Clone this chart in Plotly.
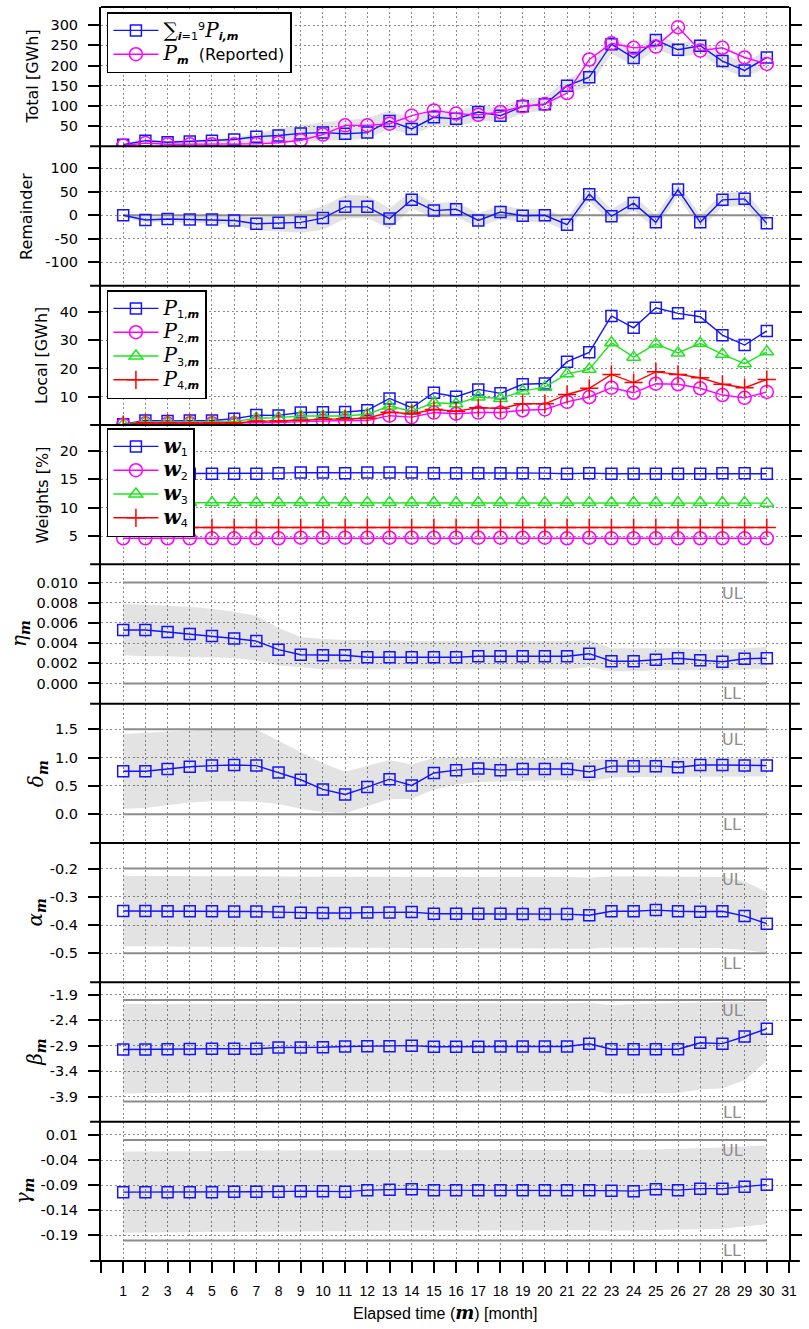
import plotly.graph_objects as go
from plotly.subplots import make_subplots

# ---------------------------------------------------------------- data
months = list(range(1, 31))

total_sum = [4, 14, 10, 12, 14, 17, 24, 27, 32, 34, 31, 34, 63, 43, 72, 68, 85, 76, 99, 104,
             150, 171, 253, 219, 263, 239, 249, 211, 188, 220]
total_sum_lo = [1, 9, 6, 7, 9, 11, 5, 9, 10, 15, 15, 19, 44, 27, 52, 48, 64, 60, 81, 89,
                134, 146, 229, 200, 241, 220, 229, 192, 171, 196]
total_sum_hi = [8, 18, 14, 16, 18, 22, 31, 44, 52, 60, 64, 70, 89, 68, 93, 88, 101, 97, 118, 122,
                167, 192, 278, 237, 278, 254, 266, 229, 208, 237]
total_reported = [2, 8, 5, 5, 5, 5, 6, 9, 15, 29, 52, 52, 56, 76, 89, 81, 78, 85, 99, 105,
                  132, 215, 255, 244, 247, 295, 237, 244, 220, 204]

remainder = [0, -10, -8, -9, -9, -11, -18, -16, -15, -6, 18, 18, -7, 33, 10, 13, -11, 7, -1, 0,
             -20, 45, -2, 26, -15, 55, -15, 33, 35, -17]
remainder_lo = [-4, -16, -14, -16, -17, -21, -32, -34, -37, -31, -7, -6, -29, 15, -6, -3, -26, -8, -15, -14,
                -34, 30, -17, 11, -30, 40, -30, 18, 20, -32]
remainder_hi = [4, -4, -2, -2, -1, -1, -4, 2, 7, 19, 43, 42, 15, 51, 26, 29, 4, 22, 13, 14,
                -6, 60, 13, 41, 0, 70, 0, 48, 50, -2]

local_p1 = [0.3, 1.6, 1.4, 1.6, 1.6, 2.2, 3.5, 3.4, 4.4, 4.5, 4.6, 5.2, 9.4, 6.1, 11.4, 10.0, 12.6, 11.2, 14.4, 14.7,
            22.4, 25.7, 38.6, 34.4, 41.5, 39.5, 38.3, 31.8, 28.3, 33.3]
local_p2 = [0.1, 0.6, 0.5, 0.6, 0.6, 0.6, 0.8, 0.9, 1.2, 1.5, 1.6, 1.6, 3.3, 2.8, 4.4, 4.0, 4.4, 4.4, 5.2, 5.5,
            8.2, 9.9, 13.2, 11.4, 14.6, 14.4, 13.0, 10.6, 9.6, 11.7]
local_p3 = [0.2, 1.2, 1.0, 1.2, 1.2, 1.2, 2.4, 2.6, 3.2, 3.2, 3.2, 3.8, 6.7, 4.9, 7.9, 7.5, 9.9, 9.4, 12.0, 13.4,
            18.1, 19.7, 29.1, 24.0, 28.7, 25.5, 28.9, 25.0, 21.7, 25.9]
local_p4 = [0.1, 0.8, 0.7, 0.7, 0.7, 0.7, 1.3, 1.4, 1.7, 2.0, 2.2, 2.4, 4.5, 4.0, 5.5, 4.9, 6.1, 5.9, 7.5, 7.5,
            10.8, 13.0, 17.9, 15.0, 18.8, 17.9, 16.7, 14.4, 13.2, 16.1]

weight_w1 = [16.0, 16.0, 16.0, 16.0, 16.0, 16.0, 16.0, 16.1, 16.2, 16.2, 16.1, 16.2, 16.2, 16.2, 16.1, 16.1, 16.1,
             16.1, 16.1, 16.1, 16.0, 16.1, 16.0, 16.0, 16.0, 16.0, 16.0, 16.1, 16.1, 16.0]
weight_w2 = [4.6, 4.6, 4.6, 4.6, 4.6, 4.6, 4.6, 4.6, 4.7, 4.7, 4.7, 4.7, 4.7, 4.7, 4.7, 4.7, 4.7,
             4.7, 4.7, 4.7, 4.6, 4.7, 4.6, 4.6, 4.6, 4.6, 4.6, 4.6, 4.6, 4.6]
weight_w3 = [10.9, 10.9, 10.9, 10.9, 10.9, 10.9, 10.9, 10.9, 10.9, 10.9, 10.9, 10.9, 10.9, 10.9, 10.9, 10.9, 10.9,
             10.9, 10.9, 10.9, 10.9, 10.9, 10.9, 10.9, 10.9, 10.9, 10.9, 10.9, 10.9, 10.8]
weight_w4 = [6.5, 6.5, 6.5, 6.5, 6.5, 6.5, 6.5, 6.5, 6.5, 6.5, 6.5, 6.5, 6.5, 6.5, 6.5, 6.5, 6.5,
             6.5, 6.5, 6.5, 6.5, 6.5, 6.5, 6.5, 6.5, 6.5, 6.5, 6.5, 6.5, 6.5]

eta = [0.0053, 0.0053, 0.0051, 0.0049, 0.0047, 0.00445, 0.0042, 0.00335, 0.00285, 0.0028, 0.0028, 0.0026,
       0.0026, 0.0026, 0.0026, 0.0026, 0.0027, 0.0027, 0.0027, 0.0027, 0.0027, 0.00295, 0.0022, 0.0022,
       0.00235, 0.0025, 0.0023, 0.00215, 0.00245, 0.0025]
eta_lo = [0.0028, 0.0027, 0.0027, 0.0026, 0.0026, 0.0025, 0.0023, 0.0018, 0.0016, 0.0014, 0.0014, 0.0014,
          0.0014, 0.0014, 0.0014, 0.0014, 0.0014, 0.0014, 0.0014, 0.0014, 0.0014, 0.0016, 0.0012, 0.0012,
          0.0013, 0.0013, 0.0013, 0.0013, 0.0014, 0.0014]
eta_hi = [0.0079, 0.0078, 0.0077, 0.0076, 0.0074, 0.0071, 0.0067, 0.0055, 0.0046, 0.0044, 0.0043, 0.0043,
          0.0043, 0.0042, 0.0042, 0.0042, 0.0042, 0.0042, 0.0042, 0.0042, 0.0042, 0.0043, 0.0035, 0.0035,
          0.0035, 0.0035, 0.0034, 0.0034, 0.0035, 0.0036]

delta = [0.76, 0.76, 0.80, 0.84, 0.86, 0.87, 0.86, 0.74, 0.61, 0.44, 0.35, 0.48, 0.62, 0.51, 0.73, 0.78,
         0.81, 0.78, 0.80, 0.80, 0.80, 0.75, 0.85, 0.85, 0.85, 0.83, 0.87, 0.87, 0.86, 0.86]
delta_lo = [0.10, 0.11, 0.16, 0.21, 0.23, 0.23, 0.22, 0.18, 0.10, 0.04, 0.02, 0.14, 0.27, 0.27, 0.44, 0.52,
            0.57, 0.58, 0.59, 0.60, 0.60, 0.58, 0.65, 0.66, 0.66, 0.66, 0.67, 0.67, 0.67, 0.67]
delta_hi = [1.42, 1.44, 1.46, 1.48, 1.50, 1.50, 1.50, 1.30, 1.10, 0.90, 0.75, 0.85, 0.96, 0.88, 1.00, 1.00,
            1.00, 1.00, 1.00, 1.00, 1.00, 0.95, 1.00, 1.00, 1.00, 1.00, 1.00, 1.00, 1.00, 1.00]

alpha = [-0.350, -0.350, -0.351, -0.351, -0.351, -0.352, -0.352, -0.354, -0.356, -0.357, -0.357, -0.355,
         -0.355, -0.354, -0.360, -0.360, -0.360, -0.360, -0.361, -0.361, -0.361, -0.365, -0.351, -0.351,
         -0.347, -0.351, -0.353, -0.351, -0.368, -0.395]
alpha_lo = [-0.475, -0.476, -0.476, -0.477, -0.477, -0.478, -0.478, -0.478, -0.479, -0.479, -0.479, -0.480,
            -0.480, -0.481, -0.482, -0.482, -0.482, -0.482, -0.482, -0.483, -0.483, -0.484, -0.479, -0.479,
            -0.479, -0.480, -0.481, -0.482, -0.488, -0.498]
alpha_hi = [-0.225, -0.226, -0.226, -0.227, -0.227, -0.227, -0.228, -0.228, -0.229, -0.229, -0.229, -0.229,
            -0.229, -0.230, -0.230, -0.230, -0.230, -0.230, -0.230, -0.230, -0.230, -0.232, -0.228, -0.227,
            -0.227, -0.228, -0.229, -0.230, -0.245, -0.283]

beta = [-2.975, -2.975, -2.970, -2.965, -2.960, -2.960, -2.960, -2.935, -2.935, -2.930, -2.915, -2.910,
        -2.910, -2.900, -2.920, -2.920, -2.920, -2.915, -2.915, -2.915, -2.915, -2.863, -2.970, -2.970,
        -2.970, -2.970, -2.843, -2.860, -2.720, -2.566]
beta_lo = [-3.84, -3.83, -3.83, -3.82, -3.82, -3.81, -3.81, -3.80, -3.80, -3.80, -3.80, -3.80, -3.80, -3.80,
           -3.80, -3.80, -3.80, -3.80, -3.80, -3.80, -3.79, -3.78, -3.84, -3.84, -3.84, -3.83, -3.76, -3.74,
           -3.58, -3.20]
beta_hi = [-2.08, -2.08, -2.07, -2.07, -2.07, -2.07, -2.07, -2.07, -2.07, -2.07, -2.07, -2.07, -2.07, -2.07,
           -2.07, -2.07, -2.07, -2.07, -2.07, -2.07, -2.07, -2.06, -2.10, -2.08, -2.07, -2.06, -2.05, -2.04,
           -2.04, -2.03]

gamma = [-0.104, -0.104, -0.104, -0.104, -0.104, -0.103, -0.103, -0.103, -0.102, -0.102, -0.103, -0.100,
         -0.099, -0.098, -0.100, -0.100, -0.100, -0.100, -0.100, -0.100, -0.100, -0.100, -0.101, -0.102,
         -0.098, -0.100, -0.097, -0.097, -0.093, -0.089]
gamma_lo = [-0.185, -0.184, -0.184, -0.184, -0.183, -0.183, -0.183, -0.183, -0.183, -0.182, -0.182, -0.181,
            -0.181, -0.181, -0.181, -0.181, -0.181, -0.181, -0.181, -0.180, -0.180, -0.180, -0.181, -0.181,
            -0.180, -0.179, -0.178, -0.177, -0.173, -0.168]
gamma_hi = [-0.023, -0.023, -0.022, -0.022, -0.022, -0.022, -0.021, -0.021, -0.021, -0.021, -0.021, -0.020,
            -0.020, -0.020, -0.020, -0.020, -0.020, -0.020, -0.020, -0.020, -0.020, -0.020, -0.021, -0.020,
            -0.019, -0.018, -0.016, -0.015, -0.013, -0.011]

# control limits (lower, upper) for the parameter panels
limits_eta = [0.0, 0.010]
limits_delta = [0.0, 1.5]
limits_alpha = [-0.5, -0.2]
limits_beta = [-4.0, -2.0]
limits_gamma = [-0.2, 0.0]

# y tick values per panel
ticks_total = [50, 100, 150, 200, 250, 300]
ticks_remainder = [-100, -50, 0, 50, 100]
ticks_local = [10, 20, 30, 40]
ticks_weights = [5, 10, 15, 20]
ticks_eta = [0.0, 0.002, 0.004, 0.006, 0.008, 0.010]
ticks_delta = [0.0, 0.5, 1.0, 1.5]
ticks_alpha = [-0.5, -0.4, -0.3, -0.2]
ticks_beta = [-3.9, -3.4, -2.9, -2.4, -1.9]
ticks_gamma = [-0.19, -0.14, -0.09, -0.04, 0.01]

# ---------------------------------------------------------------- style
BLUE = "#1414ff"
MAGENTA = "#ff00ff"
GREEN = "#1ee61e"
RED = "#ff0000"
BAND = "rgba(0,0,0,0.11)"
LIMIT = "#8c8c8c"
GRID = "#8c8c8c"
GRIDDASH = "2px,2.5px"
SANS = "DejaVu Sans"
SERIF = "DejaVu Serif"

W, H = 809, 1329
ML, MR, MT, MB = 101, 11, 7, 68
PW = W - ML - MR
PH = H - MT - MB
NROWS = 9

fig = make_subplots(rows=NROWS, cols=1, shared_xaxes=True, vertical_spacing=0)


def band(row, lo, hi):
    fig.add_trace(go.Scatter(x=months + months[::-1], y=hi + lo[::-1], fill="toself",
                             fillcolor=BAND, line=dict(width=0), mode="lines",
                             hoverinfo="skip", showlegend=False), row=row, col=1)


def hline(row, value):
    fig.add_trace(go.Scatter(x=[months[0], months[-1]], y=[value, value], mode="lines",
                             line=dict(color=LIMIT, width=2), hoverinfo="skip",
                             showlegend=False), row=row, col=1)


def series(row, y, color, symbol, size, name=None, legend=None):
    fig.add_trace(go.Scatter(x=months, y=y, mode="lines+markers", name=name,
                             line=dict(color=color, width=1.4),
                             marker=dict(symbol=symbol, size=size, color=color,
                                         line=dict(color=color, width=1.5)),
                             showlegend=name is not None,
                             legend=legend), row=row, col=1)


def P(sub):
    return (f'<span style="font-family:{SERIF};font-size:20px"><i>P</i></span>'
            f'<sub>{sub}</sub>')


BM = "<b><i>m</i></b>"

# panel 1: total
band(1, total_sum_lo, total_sum_hi)
series(1, total_sum, BLUE, "square-open", 11,
       name=('<span style="font-family:' + SERIF + ';font-size:20px">∑</span>'
             '<sub><b><i>i</i></b>=1</sub><sup>9</sup>' + P("<b><i>i,m</i></b>")),
       legend="legend")
series(1, total_reported, MAGENTA, "circle-open", 13,
       name=P(BM) + "  (Reported)", legend="legend")

# panel 2: remainder
band(2, remainder_lo, remainder_hi)
hline(2, 0)
series(2, remainder, BLUE, "square-open", 11)

# panel 3: local
series(3, local_p1, BLUE, "square-open", 11, name=P("1," + BM), legend="legend2")
series(3, local_p2, MAGENTA, "circle-open", 13, name=P("2," + BM), legend="legend2")
series(3, local_p3, GREEN, "triangle-up-open", 12, name=P("3," + BM), legend="legend2")
series(3, local_p4, RED, "cross-thin-open", 13, name=P("4," + BM), legend="legend2")


def w(sub):
    return (f'<span style="font-family:{SERIF};font-size:20px"><b><i>w</i></b></span>'
            f'<sub>{sub}</sub>')


# panel 4: weights
series(4, weight_w1, BLUE, "square-open", 11, name=w(1), legend="legend3")
series(4, weight_w2, MAGENTA, "circle-open", 13, name=w(2), legend="legend3")
series(4, weight_w3, GREEN, "triangle-up-open", 12, name=w(3), legend="legend3")
series(4, weight_w4, RED, "cross-thin-open", 13, name=w(4), legend="legend3")

# panels 5-9: parameters with limits
param_rows = [
    (5, eta, eta_lo, eta_hi, limits_eta),
    (6, delta, delta_lo, delta_hi, limits_delta),
    (7, alpha, alpha_lo, alpha_hi, limits_alpha),
    (8, beta, beta_lo, beta_hi, limits_beta),
    (9, gamma, gamma_lo, gamma_hi, limits_gamma),
]
annotations = []
for row, vals, lo, hi, lim in param_rows:
    band(row, lo, hi)
    hline(row, lim[0])
    hline(row, lim[1])
    series(row, vals, BLUE, "square-open", 11)
    yref = f"y{row}"
    xref = f"x{row}"
    for txt, v in (("UL", lim[1]), ("LL", lim[0])):
        annotations.append(dict(x=28.45, y=v, xref=xref, yref=yref, text=txt,
                                showarrow=False, xanchor="center", yanchor="top",
                                yshift=1, font=dict(family=SANS, size=16, color=LIMIT)))

# ---------------------------------------------------------------- axes
y_ranges = [
    ([0, 345], ticks_total, [str(t) for t in ticks_total]),
    ([-150, 147], ticks_remainder, [str(t) for t in ticks_remainder]),
    ([0, 49.3], ticks_local, [str(t) for t in ticks_local]),
    ([0, 24.6], ticks_weights, [str(t) for t in ticks_weights]),
    ([-0.002, 0.0118], ticks_eta, [f"{t:.3f}" for t in ticks_eta]),
    ([-0.507, 1.954], ticks_delta, [f"{t:.1f}" for t in ticks_delta]),
    ([-0.6025, -0.1095], ticks_alpha, [f"{t:.1f}" for t in ticks_alpha]),
    ([-4.395, -1.654], ticks_beta, [f"{t:.1f}" for t in ticks_beta]),
    ([-0.241, 0.0363], ticks_gamma, [f"{t:.2f}" for t in ticks_gamma]),
]

for i in range(1, NROWS + 1):
    rng, tv, tt = y_ranges[i - 1]
    fig.update_yaxes(row=i, col=1, range=rng, tickvals=tv, ticktext=tt,
                     ticks="outside", ticklen=11, tickwidth=2, tickcolor="black",
                     showline=True, linewidth=2, linecolor="black", mirror="allticks",
                     showgrid=True, gridcolor=GRID, gridwidth=1, griddash=GRIDDASH,
                     zeroline=False, ticklabelstandoff=7,
                     tickfont=dict(family=SANS, size=14.5, color="black"))
    bottom = i == NROWS
    fig.update_xaxes(row=i, col=1, range=[0, 31], tickvals=list(range(0, 32)),
                     ticktext=[" "] + [str(m) for m in range(1, 32)],
                     showticklabels=bottom, ticks="outside" if bottom else "",
                     ticklen=11, tickwidth=2, tickcolor="black",
                     showline=False,
                     showgrid=True, gridcolor=GRID, gridwidth=1, griddash=GRIDDASH,
                     zeroline=False, ticklabelstandoff=6,
                     tickfont=dict(family="Liberation Sans", size=14, color="black"))


def px_to_xpaper(px):
    return (px - ML) / PW


def px_to_ypaper(py):
    return 1 - (py - MT) / PH


# y-axis titles
titles = [
    ("Total [GWh]", 32, SANS, 16),
    ("Remainder", 26, SANS, 16),
    ("Local [GWh]", 41, SANS, 16),
    ("Weights [%]", 42, SANS, 16),
    ("<i>η</i><sub><b><i>m</i></b></sub>", 19, SERIF, 20),
    ("<i>δ</i><sub><b><i>m</i></b></sub>", 37, SERIF, 20),
    ("<i>α</i><sub><b><i>m</i></b></sub>", 35, SERIF, 20),
    ("<i>β</i><sub><b><i>m</i></b></sub>", 35, SERIF, 20),
    ("<i>γ</i><sub><b><i>m</i></b></sub>", 23, SERIF, 20),
]
for k, (txt, cx, fam, sz) in enumerate(titles):
    annotations.append(dict(text=txt, xref="paper", yref="paper",
                            x=px_to_xpaper(cx), y=1 - (k + 0.5) / NROWS,
                            xanchor="center", yanchor="middle", textangle=-90,
                            showarrow=False, font=dict(family=fam, size=sz, color="black")))

# x-axis title
annotations.append(dict(text=('Elapsed time (<span style="font-family:' + SERIF +
                              ';font-size:18px"><b><i>m</i></b></span>) [month]'),
                        xref="paper", yref="paper", x=0.5, y=px_to_ypaper(1312),
                        xanchor="center", yanchor="middle", showarrow=False,
                        font=dict(family="Liberation Sans", size=16, color="black")))

# horizontal panel borders; the inner ones and the bottom one reach past the frame
shapes = []
ext = 11 / PW
for k in range(0, NROWS + 1):
    yb = 1 - k / NROWS
    x0, x1 = (0, 1) if k == 0 else (-ext, 1 + ext)
    shapes.append(dict(type="line", xref="paper", yref="paper", x0=x0, x1=x1,
                       y0=yb, y1=yb, layer="above", line=dict(color="black", width=2)))

legend_style = dict(bgcolor="white", bordercolor="black", borderwidth=1.5,
                    font=dict(family=SANS, size=16, color="black"),
                    xanchor="left", yanchor="top", x=px_to_xpaper(107),
                    tracegroupgap=0, itemwidth=45)

fig.update_layout(
    width=W, height=H,
    margin=dict(l=ML, r=MR, t=MT, b=MB),
    plot_bgcolor="white", paper_bgcolor="white",
    legend=dict(legend_style, y=px_to_ypaper(12)),
    legend2=dict(legend_style, y=px_to_ypaper(290)),
    legend3=dict(legend_style, y=px_to_ypaper(428)),
    annotations=annotations,
    shapes=shapes,
    showlegend=True,
)

fig.write_html("out.html")
